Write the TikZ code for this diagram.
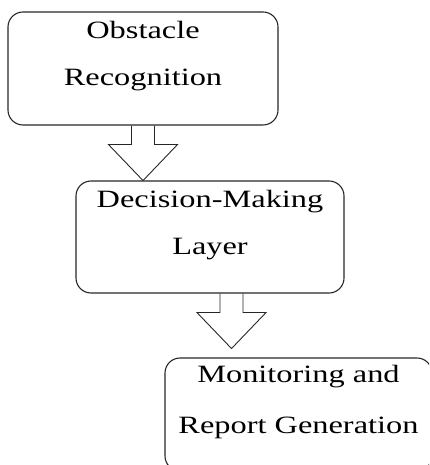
\documentclass[tikz,border=0pt]{standalone}
\usepackage{fontspec}
\setmainfont[FakeStretch=1.3]{Liberation Serif}
\usetikzlibrary{calc}

% hollow block arrow pointing down, #1 = top middle of the shaft
\newcommand{\downblock}[1]{%
  \draw[hollow] (#1) ++(-11.5,0) -- ++(0,19) -- ++(-23,0) -- ++(34.5,36)
    -- ++(34.5,-36) -- ++(-23,0) -- ++(0,-19);}

\begin{document}
\begin{tikzpicture}[x=1bp, y=-1bp,
    stagebox/.style={rectangle, draw=black!85, line width=1.1pt, rounded corners=15bp,
                     minimum width=268bp, minimum height=113bp, inner sep=0pt},
    stagetext/.style={align=center, anchor=north, inner sep=0pt,
                      font=\fontsize{25}{47}\selectfont},
    hollow/.style={draw=black!85, line width=0.9pt, line join=miter}]
  \useasboundingbox (0,0) rectangle (429,465);
  \clip (0,0) rectangle (429,465);
  \node[stagebox, minimum width=270bp] (recog) at (143,68.5) {};
  \node[stagebox, minimum height=112bp] (decide) at (210,237) {};
  \node[stagebox, minimum width=267bp] (monitor) at (298.5,414.5) {};
  % labels sit near the top of each box
  \node[stagetext] (recogtxt)   at ($(recog.north)+(0,10)$)   {Obstacle\\Recognition};
  \node[stagetext] (decidetxt)  at ($(decide.north)+(0,10)$)  {Decision-Making\\Layer};
  \node[stagetext] (monitortxt) at ($(monitor.north)+(0,8)$)  {Monitoring and\\[4bp]Report Generation};
  % block arrows
  \downblock{recog.south}
  \downblock{$(decide.south)+(21.5,0)$}
\end{tikzpicture}
\end{document}
